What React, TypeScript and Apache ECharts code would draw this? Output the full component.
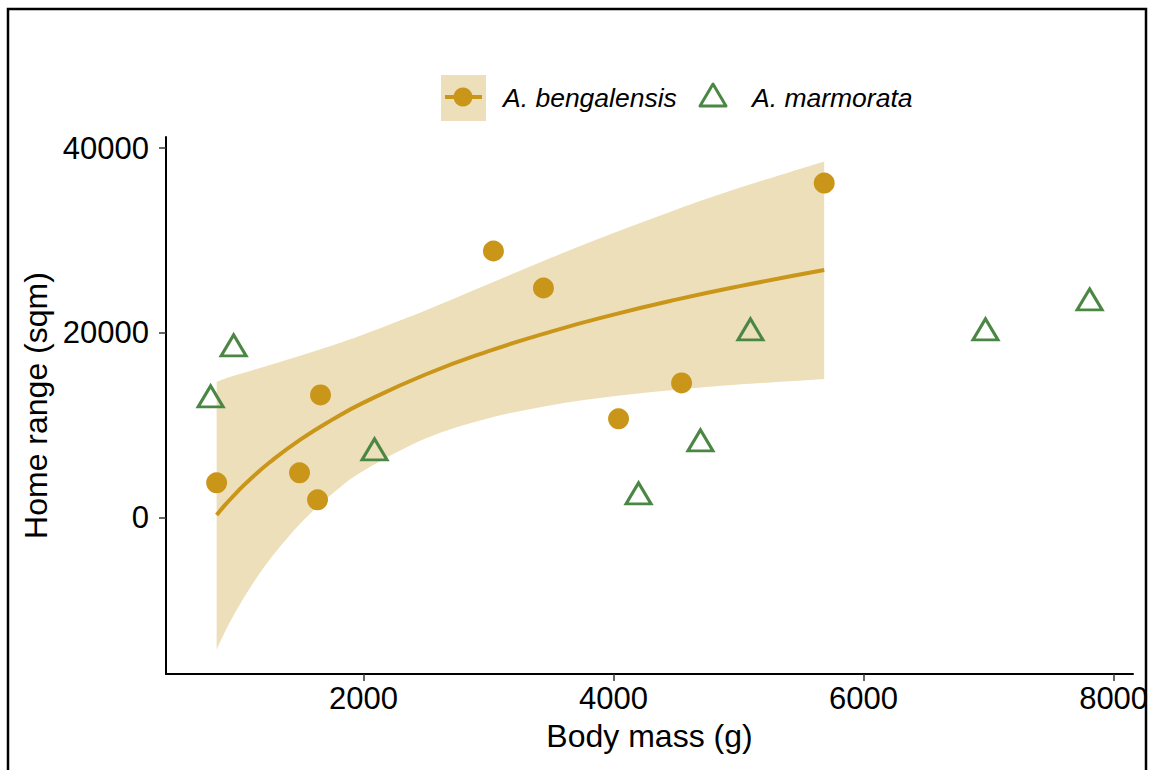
import React, { useEffect, useRef } from "react";
import * as echarts from "echarts";

// ---- data ----
const bengalensisMass = [825, 1488, 1632, 1656, 3039, 3439, 4040, 4544, 5685];
const bengalensisRange = [3784, 4865, 1946, 13297, 28865, 24865, 10703, 14595, 36216];

const marmorataMass = [777, 961, 2088, 4200, 4695, 5095, 6975, 7808];
const marmorataRange = [12757, 18270, 7027, 2270, 8000, 20000, 20000, 23243];

// fitted curve and its confidence band (A. bengalensis)
const fitMass = [825, 900, 1000, 1100, 1250, 1500, 1750, 2000, 2500, 3000, 3500, 4000, 4500, 5000, 5685];
const fitRange = [300, 1500, 2950, 4250, 6010, 8510, 10620, 12460, 15530, 18030, 20150, 21980, 23600, 25040, 26810];
const bandUpper = [14700, 15100, 15520, 15920, 16530, 17560, 18650, 19830, 22450, 25290, 28130, 30820, 33340, 35670, 38560];
const bandLower = [-14250, -12100, -9620, -7420, -4510, -540, 2600, 5100, 8600, 10770, 12180, 13140, 13860, 14420, 15030];

const xTicks = [2000, 4000, 6000, 8000];
const yTicks = [0, 20000, 40000];

const speciesNames = ["A. bengalensis", "A. marmorata"];

const GOLD = "#C99619";
const GREEN = "#4B8744";
const BAND = "#EEDFBB";
const FONT = "'Liberation Sans', Arial, Helvetica, sans-serif";

type Pt = number[];

// Catmull-Rom spline through screen points, as cubic bezier commands
function splineSegments(pts: Pt[]): string {
  let d = "";
  for (let i = 0; i < pts.length - 1; i++) {
    const p0 = pts[i - 1] || pts[i];
    const p1 = pts[i];
    const p2 = pts[i + 1];
    const p3 = pts[i + 2] || pts[i + 1];
    const c1x = p1[0] + (p2[0] - p0[0]) / 6;
    const c1y = p1[1] + (p2[1] - p0[1]) / 6;
    const c2x = p2[0] - (p3[0] - p1[0]) / 6;
    const c2y = p2[1] - (p3[1] - p1[1]) / 6;
    d += ` C ${c1x} ${c1y} ${c2x} ${c2y} ${p2[0]} ${p2[1]}`;
  }
  return d;
}

export default function App() {
  const ref = useRef<HTMLDivElement>(null);

  useEffect(() => {
    document.body.style.margin = "0";
    const chart = echarts.init(ref.current!, null, { renderer: "svg" });

    const bandData = fitMass.map((x, i) => [x, bandLower[i], bandUpper[i]]);

    const option: any = {
      animation: false,
      backgroundColor: "#ffffff",
      textStyle: { fontFamily: FONT },
      grid: { left: 166, right: 19, top: 137, bottom: 96, containLabel: false },
      xAxis: {
        type: "value",
        min: 420,
        max: 8155,
        name: "Body mass (g)",
        nameLocation: "middle",
        nameGap: 46,
        nameTextStyle: { fontSize: 32, color: "#000", fontFamily: FONT },
        axisLine: { show: true, onZero: false, lineStyle: { color: "#000", width: 2 } },
        axisTick: {
          show: true,
          length: 7,
          customValues: xTicks,
          lineStyle: { color: "#333", width: 1.5 },
        },
        axisLabel: {
          customValues: xTicks,
          formatter: (v: number) => String(v),
          fontSize: 31,
          color: "#000",
          margin: 9,
          fontFamily: FONT,
        },
        splitLine: { show: false },
      },
      yAxis: {
        type: "value",
        min: -16900,
        max: 41200,
        name: "Home range (sqm)",
        nameLocation: "middle",
        nameRotate: 90,
        nameGap: 104,
        nameTextStyle: { fontSize: 32, color: "#000", fontFamily: FONT },
        axisLine: { show: true, onZero: false, lineStyle: { color: "#000", width: 2 } },
        axisTick: {
          show: true,
          length: 7,
          customValues: yTicks,
          lineStyle: { color: "#333", width: 1.5 },
        },
        axisLabel: {
          customValues: yTicks,
          formatter: (v: number) => String(v),
          fontSize: 31,
          color: "#000",
          margin: 17,
          fontFamily: FONT,
        },
        splitLine: { show: false },
      },
      graphic: [
        {
          type: "rect",
          silent: true,
          shape: { x: 8, y: 9, width: 1138, height: 820 },
          style: { fill: "none", stroke: "#000", lineWidth: 2.5 },
          z: 100,
        },
        {
          type: "group",
          children: [
            { type: "rect", shape: { x: 441, y: 75, width: 45, height: 46 }, style: { fill: BAND } },
            {
              type: "line",
              shape: { x1: 445, y1: 97, x2: 482, y2: 97 },
              style: { stroke: GOLD, lineWidth: 4 },
            },
            { type: "circle", shape: { cx: 463, cy: 97, r: 9.5 }, style: { fill: GOLD } },
            {
              type: "text",
              x: 503,
              y: 98,
              style: {
                text: speciesNames[0],
                fontSize: 26.5,
                fontStyle: "italic",
                fontFamily: FONT,
                fill: "#000",
                verticalAlign: "middle",
                align: "left",
              },
            },
            {
              type: "polygon",
              shape: { points: [[713, 84], [700, 106], [726, 106]] },
              style: { fill: "none", stroke: GREEN, lineWidth: 3, lineJoin: "round" },
            },
            {
              type: "text",
              x: 752,
              y: 98,
              style: {
                text: speciesNames[1],
                fontSize: 26.5,
                fontStyle: "italic",
                fontFamily: FONT,
                fill: "#000",
                verticalAlign: "middle",
                align: "left",
              },
            },
          ],
        },
      ],
      series: [
        {
          name: "band",
          type: "custom",
          data: bandData,
          encode: { x: 0, y: [1, 2] },
          silent: true,
          z: 1,
          renderItem: (params: any, api: any) => {
            if (params.dataIndex !== 0) return null;
            const up = bandData.map((d) => api.coord([d[0], d[2]]));
            const lo = bandData.map((d) => api.coord([d[0], d[1]])).reverse();
            let d = `M ${up[0][0]} ${up[0][1]}` + splineSegments(up);
            d += ` L ${lo[0][0]} ${lo[0][1]}` + splineSegments(lo) + " Z";
            return {
              type: "path",
              shape: { pathData: d },
              style: { fill: BAND, stroke: "none" },
            };
          },
        },
        {
          name: "fit",
          type: "line",
          data: fitMass.map((x, i) => [x, fitRange[i]]),
          smooth: true,
          symbol: "none",
          silent: true,
          lineStyle: { color: GOLD, width: 4 },
          z: 2,
        },
        {
          name: speciesNames[0],
          type: "scatter",
          data: bengalensisMass.map((x, i) => [x, bengalensisRange[i]]),
          symbol: "circle",
          symbolSize: 21,
          itemStyle: { color: GOLD, opacity: 1 },
          z: 3,
        },
        {
          name: speciesNames[1],
          type: "scatter",
          data: marmorataMass.map((x, i) => [x, marmorataRange[i]]),
          symbol: "triangle",
          symbolSize: [25, 21],
          symbolOffset: [0, -3.5],
          itemStyle: {
            color: "rgba(0,0,0,0)",
            borderColor: GREEN,
            borderWidth: 3,
            opacity: 1,
          },
          z: 3,
        },
      ],
    };

    chart.setOption(option);
    return () => chart.dispose();
  }, []);

  return <div ref={ref} style={{ width: 1152, height: 770 }} />;
}
